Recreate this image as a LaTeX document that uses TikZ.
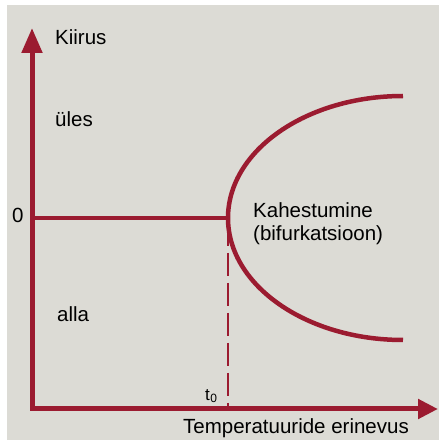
\documentclass[tikz,border=0pt]{standalone}
\usepackage{fontspec}
\setmainfont{Liberation Sans}
\usepackage{tikz}
\usetikzlibrary{arrows.meta}
\definecolor{bordo}{HTML}{9B1B30}
\definecolor{paper}{HTML}{DCDBD5}
\tikzset{
  axis/.style={{Triangle[length=25pt,width=20pt]}-{Triangle[length=20pt,width=19pt]},line width=5pt,bordo,line join=miter},
  branch/.style={line width=4.5pt,bordo},
  lbl/.style={font=\fontsize{20.5}{23}\selectfont,inner sep=0pt,anchor=base west}
}
\begin{document}
\begin{tikzpicture}[x=1pt,y=1pt]
\useasboundingbox (0,0) rectangle (439,440);
\fill[paper] (7,0) rectangle (439,435);
\coordinate (top) at (32,412);
\coordinate (corner) at (32,31);
\coordinate (right) at (438,31);
\draw[axis] (top)--(corner)--(right);
\coordinate (zero) at (32,222);
\coordinate (vertex) at (228,222);
\coordinate (upper) at (403,344);
\coordinate (foot) at (228,33);
\draw[branch] (zero)--(vertex);
\draw[branch] (upper) arc (90:270:175 and 122);
\draw[bordo,line width=1.8pt,dash pattern=on 23pt off 7pt] (228,217)--(foot);
\node[lbl] (kiirus) at (55,395) {Kiirus};
\node[lbl] (yles) at (55,313) {üles};
\node[lbl] (alla) at (57,118) {alla};
\node[lbl] (null) at (12,217) {0};
\node[lbl,anchor=north west,align=left] (kahe) at (253,238) {Kahestumine\\(bifurkatsioon)};
\node[lbl,font=\fontsize{17}{17}\selectfont] (tnull) at (205,39) {t\kern0.5pt\raisebox{-1.5pt}{\fontsize{12}{12}\selectfont 0}};
\node[lbl] (xlab) at (183,6) {Temperatuuride erinevus};
\end{tikzpicture}
\end{document}
